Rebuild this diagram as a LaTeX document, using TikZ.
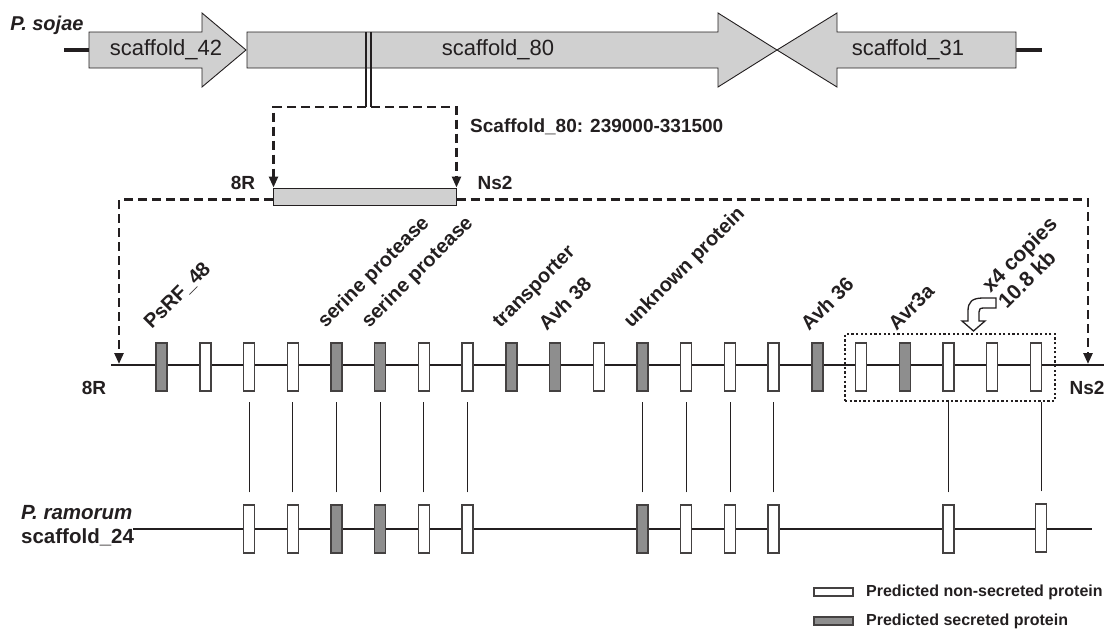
\documentclass[tikz,border=0pt]{standalone}
\usepackage{fontspec}
\setmainfont{Liberation Sans}
\usetikzlibrary{arrows.meta,calc}
\definecolor{ink}{HTML}{231F20}
\definecolor{lgray}{HTML}{D0D0D0}
\definecolor{dgray}{HTML}{8E8E8E}
\begin{document}
\begin{tikzpicture}[x=1pt,y=-1pt,
  gene/.style={draw=ink!85,line width=1.4pt,minimum width=11pt,minimum height=48pt,inner sep=0pt,fill=white},
  sec/.style={gene,fill=dgray},
  lab/.style={font=\fontsize{19}{21}\selectfont\bfseries,text=ink,inner sep=0pt},
  glab/.style={lab,font=\fontsize{20}{22}\selectfont\bfseries,rotate=45,anchor=south west},
  sclab/.style={font=\fontsize{22}{24}\selectfont,text=ink,inner sep=0pt},
  segarrow/.style={draw=ink,line width=0.9pt,fill=lgray,line join=miter},
  dashconn/.style={draw=ink,line width=2.5pt,dash pattern=on 9pt off 5pt,-{Triangle[length=11pt,width=9pt]}},
  conn/.style={draw=ink,line width=0.9pt},
  chrom/.style={draw=ink,line width=2.8pt}
]
\useasboundingbox (0,0) rectangle (1104,629);

% ---------- top: P. sojae scaffolds ----------
\draw[ink,line width=4.5pt] (64,50) -- (89,50);
\draw[ink,line width=4.5pt] (1016,50) -- (1042,50);
\path[segarrow] (89,32) -- (202,32) -- (202,13) -- (246,50) -- (202,87) -- (202,68) -- (89,68) -- cycle;
\path[segarrow] (247,32) -- (718,32) -- (718,13) -- (777,50) -- (718,87) -- (718,68) -- (247,68) -- cycle;
\path[segarrow] (1016,32) -- (837,32) -- (837,13) -- (777,50) -- (837,87) -- (837,68) -- (1016,68) -- cycle;
\node[sclab] (s42) at (166,50) {scaffold\_42};
\node[sclab] (s80) at (498,50) {scaffold\_80};
\node[sclab] (s31) at (908,50) {scaffold\_31};
\node[font=\fontsize{20}{22}\selectfont\bfseries\itshape,text=ink,inner sep=0pt] (psoj) at (47,25) {P. sojae};

% double break lines
\draw[ink,line width=1.2pt] (366,32) -- (366,107);
\draw[ink,line width=1.2pt] (371,32) -- (371,107);
\coordinate (bl) at (366,107);
\coordinate (br) at (371,107);

% region box
\node[draw=ink,line width=1pt,fill=lgray,minimum width=183pt,minimum height=17pt,inner sep=0pt] (region) at (364.5,196.5) {};
\draw[dashconn] (bl) -| ([xshift=1pt]region.north west);
\draw[dashconn] (br) -| (region.north east);
\node[lab] (t8Ra) at (243,183) {8R};
\node[lab] (tNs2a) at (495,183) {Ns2};
\node[lab,anchor=west] (trange) at (470,127) {Scaffold\_80: 239000-331500};

% ---------- main (expanded) line ----------
\coordinate (uL) at (111,365);
\coordinate (uR) at (1104,365);
\coordinate (m8R) at (119,364);
\coordinate (mNs2) at (1088,364);
\draw[chrom] (uL) -- (uR);
\draw[dashconn] ([yshift=-3pt]region.west) -| (m8R);
\draw[dashconn] ([yshift=-3pt]region.east) -| (mNs2);
\node[lab] (t8Rb) at (94,388) {8R};
\node[lab] (tNs2b) at (1087,388) {Ns2};

\foreach \k/\t in {0/sec,1/gene,2/gene,3/gene,4/sec,5/sec,6/gene,7/gene,8/sec,9/sec,10/gene,11/sec,12/gene,13/gene,14/gene,15/sec,16/gene,17/sec,18/gene,19/gene,20/gene}
  \node[\t] (g\k) at ({161.6+43.72*\k},367) {};

% gene labels
\foreach \k/\s in {0/{PsRF\_48},4/{serine protease},5/{serine protease},8/{transporter},9/{Avh 38},11/{unknown protein},15/{Avh 36},17/{Avr3a}}
  \node[glab] (l\k) at ({161.6+43.72*\k-8},332) {\s};

% repeat box
\node[draw=ink,line width=2.3pt,dash pattern=on 2.3pt off 2.3pt,minimum width=210pt,minimum height=67pt,inner sep=0pt] (rep) at (950,367.5) {};
\node[glab,align=left,font=\fontsize{21}{23}\selectfont\bfseries] (copies) at (1007,310) {x4 copies\\10.8 kb};
\draw[ink,line width=1.3pt,fill=white,line join=miter]
  (996,298) -- (983,298) .. controls (972,298) and (968,302) .. (968,311) -- (968,321) -- (962,321) -- (973.5,331)
  -- (985,321) -- (979,321) -- (979,312) .. controls (979,309) and (980,308) .. (984,308) -- (996,308) -- cycle;

% ---------- P. ramorum ----------
\coordinate (lL) at (133,529);
\coordinate (lR) at (1092,529);
\draw[chrom] (lL) -- (lR);
\node[font=\fontsize{20.5}{22}\selectfont\bfseries\itshape,text=ink,inner sep=0pt,anchor=west] (pram) at (21,513) {P. ramorum};
\node[font=\fontsize{20.5}{22}\selectfont\bfseries,text=ink,inner sep=0pt,anchor=west] (sc24) at (21,537) {scaffold\_24};

\foreach \k/\t in {2/gene,3/gene,4/sec,5/sec,6/gene,7/gene,11/sec,12/gene,13/gene,14/gene,18/gene}
  \node[\t] (h\k) at ({161.6+43.72*\k},529) {};
\node[gene] (h20) at (1041,528) {};

\coordinate (ctop) at (0,402);
\foreach \k in {2,3,4,5,6,7,11,12,13,14,18,20}
  \draw[conn] ([yshift=12pt]h\k.north) -- (h\k.north |- ctop);

% ---------- legend ----------
\node[gene,minimum width=39pt,minimum height=8pt] (legw) at (833.5,592) {};
\node[sec,minimum width=39pt,minimum height=8pt] (legd) at (833.5,621) {};
\node[font=\fontsize{16}{18}\selectfont\bfseries,text=ink,inner sep=0pt,anchor=west] (legwt) at (866,592) {Predicted non-secreted protein};
\node[font=\fontsize{16}{18}\selectfont\bfseries,text=ink,inner sep=0pt,anchor=west] (legdt) at (866,621) {Predicted secreted protein};
\end{tikzpicture}
\end{document}
